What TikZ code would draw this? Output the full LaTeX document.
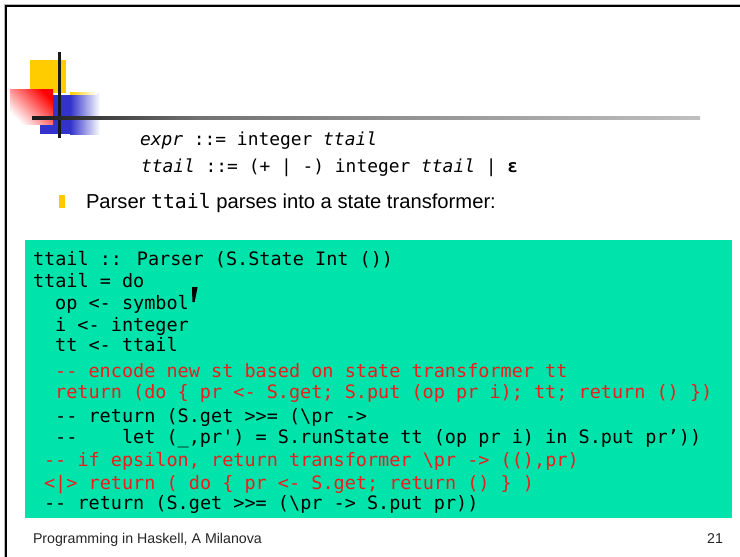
\documentclass[tikz,border=0pt]{standalone}
\usepackage{fontspec}
\setmainfont{Liberation Sans}
\newfontfamily\codefont{DejaVu Sans Mono}[Ligatures=TeXOff]
\definecolor{codegreen}{HTML}{00E4AC}
\definecolor{codered}{HTML}{EE1C1C}
\definecolor{bullety}{HTML}{FFC800}
\definecolor{decoyellow}{HTML}{FFCC00}
\definecolor{decoblue}{HTML}{3333CC}
\begin{document}
\begin{tikzpicture}[x=1pt,y=-1pt,
  every node/.style={inner sep=0pt, outer sep=0pt},
  codeline/.style={anchor=base west, font=\codefont\fontsize{18.5}{22}\selectfont, text=black},
  redline/.style={codeline, text=codered},
  gram/.style={anchor=base west, font=\codefont\fontsize{17.9}{22}\selectfont},
  bodytext/.style={anchor=base west, font=\fontsize{20.2}{24}\selectfont},
  foot/.style={anchor=base, font=\fontsize{14.2}{16}\selectfont, text=black!85}]
\useasboundingbox (0,0) rectangle (740,557);
\fill[white] (0,0) rectangle (740,557);
% slide border
\draw[gray!55, line width=1pt] (4.2,557) -- (4.2,4.0) -- (740,4.0);
\draw[black, line width=2.3pt] (6.1,557) -- (6.1,5.9) -- (740,5.9);
% decoration
\fill[decoyellow] (30,60) rectangle (66,93);
\fill[decoblue] (40,95) rectangle (70,134);
\shade[left color=decoblue, right color=white] (70,93) rectangle (100,134);
\shade[left color=decoyellow, right color=white] (70,92.6) rectangle (97,94.6);
\shade[top color=red, bottom color=white, shading angle=-45] (10,89) rectangle (53,124);
\draw[black!90, line width=3.3pt] (59.2,52) -- (59.2,138);
\shade[left color=black!90, right color=black!55] (32,116.4) rectangle (200,119);
\shade[left color=black!55, right color=black!25] (200,116.4) rectangle (700,119);
% grammar
\node[gram] (g1) at (140,145) {\itshape expr\upshape{} ::= integer \itshape ttail};
\node[gram] (g2) at (141,172.5) {\itshape ttail\upshape{} ::= (+ | -) integer \itshape ttail\upshape{} | \bfseries ε};
% bullet
\fill[bullety] (58.5,195) rectangle (65,208.3);
\node[bodytext] (b1) at (86,208.3) {Parser {\codefont\fontsize{19.8}{20}\selectfont ttail} parses into a state transformer:};
% code box
\fill[codegreen] (25,240) rectangle (732,518);
\node[codeline] (c1) at (33,265) {ttail :: Parser (S.State Int ())};
\node[codeline] (c2) at (33,287) {ttail = do};
\node[codeline] (c3) at (55.2,309.5) {op <- symbol};
\fill[black] (192,287) -- (197.6,287) -- (194.6,302) -- (192.4,302) -- cycle;
\node[codeline] (c4) at (55.2,331.5) {i <- integer};
\node[codeline] (c5) at (55.2,351.5) {tt <- ttail};
\node[redline] (c6) at (55.2,377.5) {-- encode new st based on state transformer tt};
\node[redline] (c7) at (55.2,398.5) {return (do \{ pr <- S.get; S.put (op pr i); tt; return () \})};
\node[codeline] (c8) at (55.2,422.5) {-- return (S.get >>= (\textbackslash pr ->};
\node[codeline] (c9) at (55.2,443.5) {--\ \ \ \ let (\_,pr') = S.runState tt (op pr i) in S.put pr’))};
\node[redline] (c10) at (44.1,466.5) {-- if epsilon, return transformer \textbackslash pr -> ((),pr)};
\node[redline] (c11) at (44.1,489.5) {<|> return ( do \{ pr <- S.get; return () \} )};
\node[codeline] (c12) at (44.1,509.5) {-- return (S.get >>= (\textbackslash pr -> S.put pr))};
% footer
\node[foot, anchor=base west] (f1) at (33,543) {Programming in Haskell, A Milanova};
\node[foot, anchor=base east] (f2) at (723,543) {21};
\end{tikzpicture}
\end{document}
